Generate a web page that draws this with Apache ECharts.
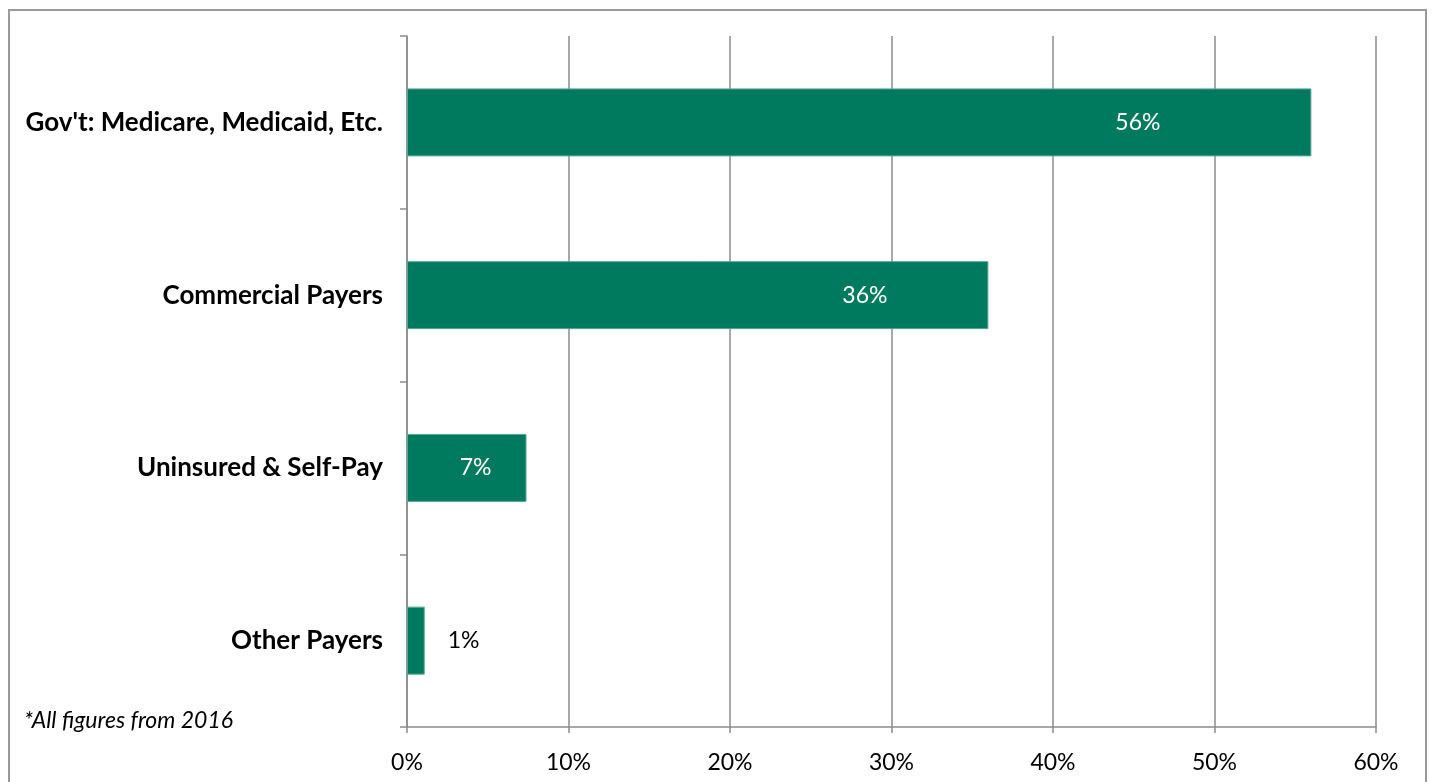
<!DOCTYPE html>
<html>
<head>
<meta charset="utf-8">
<script src="https://cdn.jsdelivr.net/npm/echarts@6/dist/echarts.min.js"></script>
<style>
  html, body { margin: 0; padding: 0; background: #fff; }
  #payer-chart { width: 1433px; height: 782px; }
</style>
</head>
<body>
<div id="payer-chart"></div>
<script>
var payerCategories = ["Gov't: Medicare, Medicaid, Etc.", 'Commercial Payers', 'Uninsured & Self-Pay', 'Other Payers'];
var payerShares = [56, 36, 7.4, 1.1];
var xTickLabels = ['0%', '10%', '20%', '30%', '40%', '50%', '60%'];

// label placement per bar (excel put them by hand)
var labelPlacement = [
    { position: 'insideRight', offset: [-146, 0], color: '#fff' },
    { position: 'insideRight', offset: [-96, 0], color: '#fff' },
    { position: 'insideRight', offset: [-30, 0], color: '#fff' },
    { position: 'right', offset: [18, 0], color: '#000' }
];

var payerChart = echarts.init(document.getElementById('payer-chart'));

var barData = payerShares.map(function (v, i) {
    return { value: v, label: labelPlacement[i] };
});

var payerChartOption = {
    animation: false,
    textStyle: { fontFamily: 'Lato' },
    grid: {
        left: 407,
        right: 57,
        top: 36,
        bottom: 55
    },
    graphic: [
        {
            type: 'rect',
            shape: { x: 9, y: 10, width: 1417, height: 800 },
            style: { fill: 'none', stroke: '#9a9a9a', lineWidth: 2 },
            silent: true
        },
        {
            type: 'text',
            left: 24,
            top: 709,
            style: {
                text: '*All figures from 2016',
                font: 'italic 23px Lato',
                fill: '#000'
            }
        }
    ],
    xAxis: {
        type: 'value',
        min: 0,
        max: 60,
        interval: 10,
        axisLine: { show: true, lineStyle: { color: '#8c8c8c', width: 1.5 } },
        axisTick: { show: true, length: 6, lineStyle: { color: '#8c8c8c', width: 1.5 } },
        splitLine: { show: true, lineStyle: { color: '#8c8c8c', width: 1.5 } },
        axisLabel: {
            margin: 24,
            fontSize: 23,
            color: '#000',
            formatter: function (v) { return xTickLabels[Math.round(v / 10)]; }
        }
    },
    yAxis: {
        type: 'category',
        inverse: true,
        data: payerCategories,
        axisLine: { show: true, lineStyle: { color: '#8c8c8c', width: 1.5 } },
        axisTick: { show: true, length: 7, lineStyle: { color: '#8c8c8c', width: 1.5 } },
        axisLabel: {
            margin: 24,
            fontSize: 26,
            fontWeight: 'bold',
            color: '#000'
        }
    },
    series: [
        {
            type: 'bar',
            data: barData,
            barWidth: 68,
            itemStyle: {
                color: '#007a5e',
                borderColor: '#5aa893',
                borderWidth: 1
            },
            label: {
                show: true,
                fontSize: 23,
                formatter: function (p) { return Math.round(p.value) + '%'; }
            }
        }
    ]
};

payerChart.setOption(payerChartOption);
</script>
</body>
</html>
